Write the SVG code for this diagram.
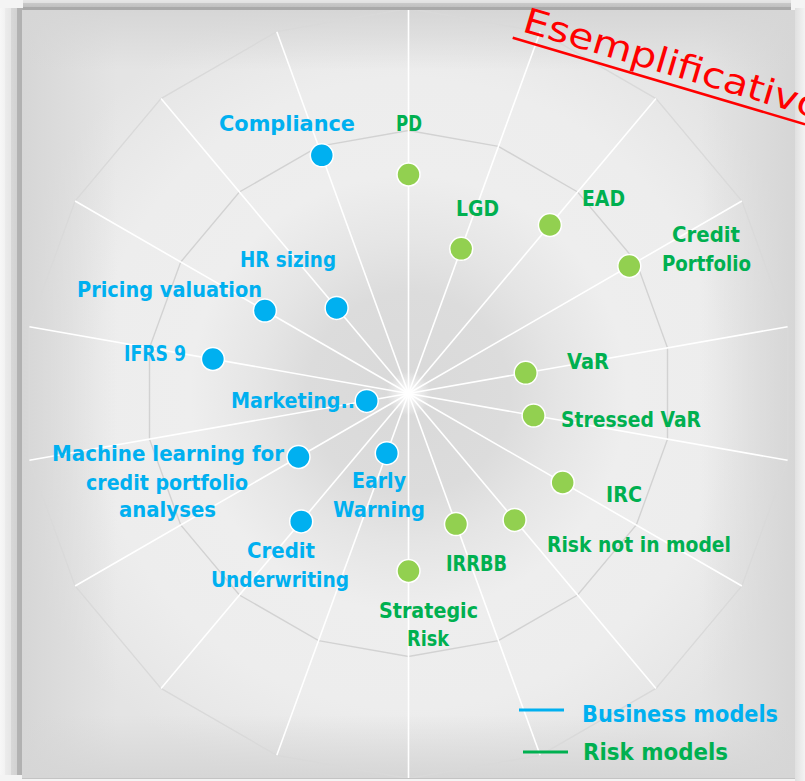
<svg xmlns="http://www.w3.org/2000/svg" width="805" height="781" viewBox="0 0 805 781">
<defs>
<style>
.lb{font-family:"DejaVu Sans","Liberation Sans",sans-serif;font-weight:bold;font-size:21px}
.lg{font-family:"DejaVu Sans","Liberation Sans",sans-serif;font-weight:bold;font-size:22.5px}
.b{fill:#00b0f0}
.g{fill:#00b050}
.db{fill:#00b0f0;stroke:#ffffff;stroke-width:1.5}
.dg{fill:#92d050;stroke:#ffffff;stroke-width:1.5}
.sp{stroke:#ffffff;stroke-width:1.6;fill:none}
.ring{fill:none;stroke:#d2d2d2;stroke-width:1.4}
.ring2{fill:none;stroke:#d9d9d9;stroke-width:1.3}
</style>
<clipPath id="cp"><rect x="22" y="10" width="773" height="768"/></clipPath>
<radialGradient id="bg" gradientUnits="userSpaceOnUse" cx="408.5" cy="393.5" r="420">
<stop offset="0" stop-color="#d9d9d9"/>
<stop offset="0.24" stop-color="#dcdcdc"/>
<stop offset="0.36" stop-color="#e5e5e5"/>
<stop offset="0.52" stop-color="#eeeeee"/>
<stop offset="0.75" stop-color="#ededed"/>
<stop offset="1" stop-color="#e4e4e4"/>
</radialGradient>
<linearGradient id="eL" x1="0" y1="0" x2="1" y2="0"><stop offset="0" stop-color="#d6d6d6"/><stop offset="1" stop-color="#d6d6d6" stop-opacity="0"/></linearGradient>
<linearGradient id="eR" x1="1" y1="0" x2="0" y2="0"><stop offset="0" stop-color="#d6d6d6"/><stop offset="1" stop-color="#d6d6d6" stop-opacity="0"/></linearGradient>
<linearGradient id="eT" x1="0" y1="0" x2="0" y2="1"><stop offset="0" stop-color="#d6d6d6"/><stop offset="1" stop-color="#d6d6d6" stop-opacity="0"/></linearGradient>
<linearGradient id="eB" x1="0" y1="1" x2="0" y2="0"><stop offset="0" stop-color="#d6d6d6"/><stop offset="1" stop-color="#d6d6d6" stop-opacity="0"/></linearGradient>
<linearGradient id="lsh" x1="0" y1="0" x2="1" y2="0">
<stop offset="0" stop-color="#f7f7f7"/><stop offset="0.22" stop-color="#f2f2f2"/>
<stop offset="0.24" stop-color="#ebebeb"/><stop offset="0.46" stop-color="#e6e6e6"/>
<stop offset="0.48" stop-color="#d8d8d8"/><stop offset="0.72" stop-color="#d2d2d2"/>
<stop offset="0.74" stop-color="#b3b3b3"/><stop offset="1" stop-color="#b0b0b0"/>
</linearGradient>
<linearGradient id="tsh" x1="0" y1="0" x2="0" y2="1">
<stop offset="0" stop-color="#e6e6e6"/><stop offset="0.3" stop-color="#e0e0e0"/>
<stop offset="0.35" stop-color="#c8c8c8"/><stop offset="0.7" stop-color="#c0c0c0"/>
<stop offset="0.75" stop-color="#a9a9a9"/><stop offset="1" stop-color="#a9a9a9"/>
</linearGradient>
<linearGradient id="rsh" x1="0" y1="0" x2="1" y2="0">
<stop offset="0" stop-color="#e0e0e0"/><stop offset="1" stop-color="#f3f3f3"/>
</linearGradient>
<radialGradient id="glow"><stop offset="0" stop-color="#ffffff"/><stop offset="1" stop-color="#ffffff" stop-opacity="0"/></radialGradient>
</defs>

<g id="background">
<rect x="0" y="0" width="805" height="781" fill="#f4f4f4"/>
<rect x="0" y="8" width="23" height="767" fill="url(#lsh)"/>
<rect x="23" y="0" width="768" height="10" fill="url(#tsh)"/>
<rect x="795" y="8" width="10" height="773" fill="url(#rsh)"/>
<rect x="22" y="10" width="773" height="768" fill="url(#bg)"/>
<rect x="22" y="10" width="95" height="768" fill="url(#eL)"/>
<rect x="700" y="10" width="95" height="768" fill="url(#eR)"/>
<rect x="22" y="10" width="773" height="60" fill="url(#eT)"/>
<rect x="22" y="715" width="773" height="63" fill="url(#eB)"/>
<line x1="22" y1="778.5" x2="795" y2="778.5" stroke="#c4c4c4" stroke-width="1"/>
</g>

<g id="grid" clip-path="url(#cp)">
<polygon class="ring" points="408.5,130.5 498.4,146.4 577.6,192 636.3,262 667.5,347.8 667.5,439.2 636.3,525 577.6,595 498.4,640.6 408.5,656.5 318.6,640.6 239.4,595 180.7,525 149.5,439.2 149.5,347.8 180.7,262 239.4,192 318.6,146.4"/>
<polygon class="ring2" points="408.5,8.5 540.2,31.7 656,98.6 741.9,201 787.6,326.7 787.6,460.3 741.9,586 656,688.4 540.2,755.3 408.5,778.5 276.8,755.3 161,688.4 75.1,586 29.4,460.3 29.4,326.7 75.1,201 161,98.6 276.8,31.7"/>
</g>

<g id="connectors" clip-path="url(#cp)">
<line class="sp" x1="408.5" y1="393.5" x2="408.5" y2="8.5"/>
<line class="sp" x1="408.5" y1="393.5" x2="540.2" y2="31.7"/>
<line class="sp" x1="408.5" y1="393.5" x2="656" y2="98.6"/>
<line class="sp" x1="408.5" y1="393.5" x2="741.9" y2="201"/>
<line class="sp" x1="408.5" y1="393.5" x2="787.6" y2="326.7"/>
<line class="sp" x1="408.5" y1="393.5" x2="787.6" y2="460.3"/>
<line class="sp" x1="408.5" y1="393.5" x2="741.9" y2="586"/>
<line class="sp" x1="408.5" y1="393.5" x2="656" y2="688.4"/>
<line class="sp" x1="408.5" y1="393.5" x2="540.2" y2="755.3"/>
<line class="sp" x1="408.5" y1="393.5" x2="408.5" y2="778.5"/>
<line class="sp" x1="408.5" y1="393.5" x2="276.8" y2="755.3"/>
<line class="sp" x1="408.5" y1="393.5" x2="161" y2="688.4"/>
<line class="sp" x1="408.5" y1="393.5" x2="75.1" y2="586"/>
<line class="sp" x1="408.5" y1="393.5" x2="29.4" y2="460.3"/>
<line class="sp" x1="408.5" y1="393.5" x2="29.4" y2="326.7"/>
<line class="sp" x1="408.5" y1="393.5" x2="75.1" y2="201"/>
<line class="sp" x1="408.5" y1="393.5" x2="161" y2="98.6"/>
<line class="sp" x1="408.5" y1="393.5" x2="276.8" y2="31.7"/>
<circle cx="408.5" cy="393.5" r="22" fill="url(#glow)"/>
</g>

<g id="n-compliance"><circle class="db" cx="321.8" cy="155.3" r="11.5"/><text class="lb b" x="219" y="131" textLength="136" lengthAdjust="spacingAndGlyphs">Compliance</text></g>
<g id="n-hr"><circle class="db" cx="336.6" cy="307.9" r="11.5"/><text class="lb b" x="240" y="267" textLength="96" lengthAdjust="spacingAndGlyphs">HR sizing</text></g>
<g id="n-pricing"><circle class="db" cx="264.9" cy="310.6" r="11.5"/><text class="lb b" x="77" y="297" textLength="185" lengthAdjust="spacingAndGlyphs">Pricing valuation</text></g>
<g id="n-ifrs9"><circle class="db" cx="212.9" cy="359" r="11.5"/><text class="lb b" x="124" y="361" textLength="62" lengthAdjust="spacingAndGlyphs">IFRS 9</text></g>
<g id="n-marketing"><circle class="db" cx="366.7" cy="400.9" r="11.5"/><text class="lb b" x="231" y="408" textLength="124" lengthAdjust="spacingAndGlyphs">Marketing..</text></g>
<g id="n-ml"><circle class="db" cx="298.5" cy="457" r="11.5"/><text class="lb b" x="52" y="461" textLength="232" lengthAdjust="spacingAndGlyphs">Machine learning for</text><text class="lb b" x="86" y="490" textLength="162" lengthAdjust="spacingAndGlyphs">credit portfolio</text><text class="lb b" x="119" y="517" textLength="97" lengthAdjust="spacingAndGlyphs">analyses</text></g>
<g id="n-early"><circle class="db" cx="386.8" cy="453.2" r="11.5"/><text class="lb b" x="352" y="488" textLength="54" lengthAdjust="spacingAndGlyphs">Early</text><text class="lb b" x="333" y="517" textLength="92" lengthAdjust="spacingAndGlyphs">Warning</text></g>
<g id="n-underwriting"><circle class="db" cx="301.2" cy="521.4" r="11.5"/><text class="lb b" x="247" y="558" textLength="68" lengthAdjust="spacingAndGlyphs">Credit</text><text class="lb b" x="211" y="587" textLength="138" lengthAdjust="spacingAndGlyphs">Underwriting</text></g>

<g id="n-pd"><circle class="dg" cx="408.5" cy="174.5" r="11.5"/><text class="lb g" x="396" y="131" textLength="26" lengthAdjust="spacingAndGlyphs">PD</text></g>
<g id="n-lgd"><circle class="dg" cx="461.2" cy="248.8" r="11.5"/><text class="lb g" x="456" y="216" textLength="43" lengthAdjust="spacingAndGlyphs">LGD</text></g>
<g id="n-ead"><circle class="dg" cx="549.9" cy="225" r="11.5"/><text class="lb g" x="582" y="206" textLength="43" lengthAdjust="spacingAndGlyphs">EAD</text></g>
<g id="n-credit-portfolio"><circle class="dg" cx="629.3" cy="266" r="11.5"/><text class="lb g" x="672" y="242" textLength="68" lengthAdjust="spacingAndGlyphs">Credit</text><text class="lb g" x="662" y="271" textLength="89" lengthAdjust="spacingAndGlyphs">Portfolio</text></g>
<g id="n-var"><circle class="dg" cx="525.7" cy="372.8" r="11.5"/><text class="lb g" x="567" y="369" textLength="42" lengthAdjust="spacingAndGlyphs">VaR</text></g>
<g id="n-svar"><circle class="dg" cx="533.6" cy="415.6" r="11.5"/><text class="lb g" x="561" y="427" textLength="140" lengthAdjust="spacingAndGlyphs">Stressed VaR</text></g>
<g id="n-irc"><circle class="dg" cx="562.7" cy="482.5" r="11.5"/><text class="lb g" x="606" y="502" textLength="36" lengthAdjust="spacingAndGlyphs">IRC</text></g>
<g id="n-rnim"><circle class="dg" cx="514.6" cy="519.9" r="11.5"/><text class="lb g" x="547" y="552" textLength="184" lengthAdjust="spacingAndGlyphs">Risk not in model</text></g>
<g id="n-irrbb"><circle class="dg" cx="456" cy="524.1" r="11.5"/><text class="lb g" x="446" y="571" textLength="61" lengthAdjust="spacingAndGlyphs">IRRBB</text></g>
<g id="n-strategic"><circle class="dg" cx="408.5" cy="571" r="11.5"/><text class="lb g" x="379" y="618" textLength="99" lengthAdjust="spacingAndGlyphs">Strategic</text><text class="lb g" x="407" y="646" textLength="42" lengthAdjust="spacingAndGlyphs">Risk</text></g>

<g id="legend">
<line x1="519" y1="710" x2="564" y2="710" stroke="#00b0f0" stroke-width="3"/>
<text class="lg b" x="582" y="722" textLength="196" lengthAdjust="spacingAndGlyphs">Business models</text>
<line x1="523" y1="752" x2="568" y2="752" stroke="#00b050" stroke-width="3"/>
<text class="lg g" x="583" y="760" textLength="145" lengthAdjust="spacingAndGlyphs">Risk models</text>
</g>

<g id="watermark">
<line x1="512.7" y1="37.7" x2="805" y2="124.3" stroke="#ff0000" stroke-width="2.5"/>
<text transform="translate(521,31) rotate(16.5)" x="0" y="0" font-family="DejaVu Sans, sans-serif" font-size="35" fill="#ff0000" textLength="310" lengthAdjust="spacingAndGlyphs">Esemplificativo</text>
</g>
</svg>
